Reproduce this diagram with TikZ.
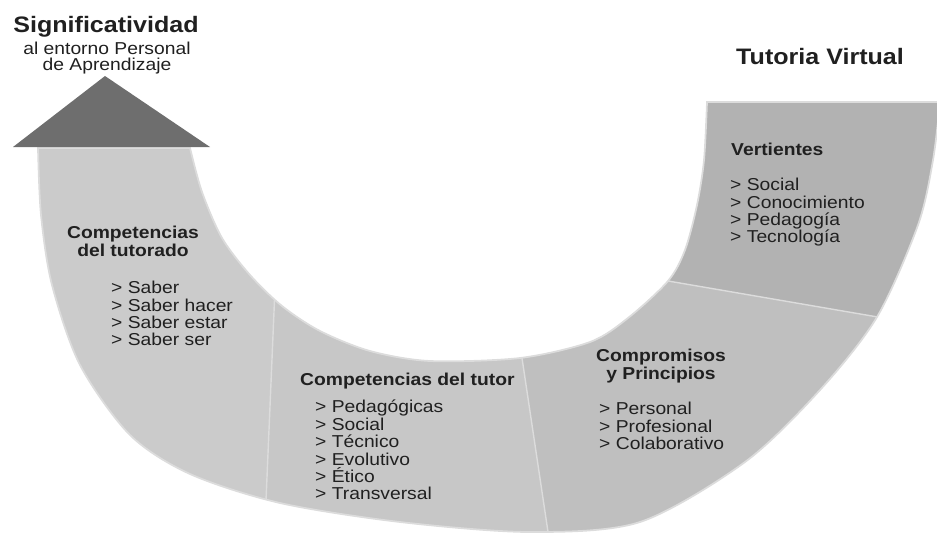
\documentclass[tikz,border=0pt]{standalone}
\usepackage{fontspec}
\setmainfont[FakeStretch=1.12]{Liberation Sans}
\definecolor{segA}{HTML}{CBCBCB}
\definecolor{segB}{HTML}{C7C7C7}
\definecolor{segC}{HTML}{BFBFBF}
\definecolor{segD}{HTML}{B2B2B2}
\definecolor{rim}{HTML}{DCDCDC}
\definecolor{tip}{HTML}{6E6E6E}
\definecolor{ink}{HTML}{202020}
\newcommand\bandpath{(38,148) -- plot[smooth] coordinates {(38,148) (41,215) (52,285) (80,365) (130,435) (190,474) (280,503) (400,522) (530,532) (640,522) (745,462) (820,390) (877,317) (918,225) (933,160) (940,102)} -- (707,102) -- plot[smooth] coordinates {(707,102) (704,160) (697,205) (685,250) (668,281) (628,318) (590,342) (520,358) (430,361) (370,351) (320,331) (282,306) (250,275) (222,238) (202,192) (190,148)} -- cycle}

\begin{document}
\begin{tikzpicture}[x=0.03cm, y=-0.03cm,
    head/.style={font=\bfseries\fontsize{14.7}{15.4}\selectfont, align=center},
    item/.style={font=\fontsize{14.7}{14.85}\selectfont, align=left, anchor=north west},
    divider/.style={draw=rim, line width=1.2pt}]
\useasboundingbox (0,0) rectangle (937,535);

\coordinate (d1a) at (274.5,300);
\coordinate (d1b) at (263.5,560);
\coordinate (d2a) at (517.8,330);
\coordinate (d2b) at (552.2,560);
\coordinate (d3a) at (600,269.3);
\coordinate (d3b) at (1000,338);

\begin{scope}
    \clip \bandpath;
    \fill [segA] (0,0) rectangle (1000,560);
    \fill [segB] (275,0) -- (d1a) -- (d1b) -- (1000,560) -- (1000,0) -- cycle;
    \fill [segC] (518,0) -- (d2a) -- (d2b) -- (1000,560) -- (1000,0) -- cycle;
    \fill [segD] (600,0) -- (d3a) -- (d3b) -- (1000,0) -- cycle;

    \path [divider] (d1a) edge (d1b);
    \path [divider] (d2a) edge (d2b);
    \path [divider] (d3a) edge (d3b);
\end{scope}
\draw [rim, line width=1.5pt] \bandpath;

\fill [tip] (105,76) -- (13,147) -- (210,147) -- cycle;

\begin{scope}[every node/.style={inner sep=0, text=ink}]
    \node [font=\bfseries\fontsize{19.1}{20}\selectfont, anchor=base] (t) at (106,33) {Significatividad};
    \node [font=\fontsize{14.7}{13.3}\selectfont, align=center, anchor=north] (s) at (107,42) {al entorno Personal\\de Aprendizaje};
    \node [font=\bfseries\fontsize{19.1}{20}\selectfont, anchor=base] (v) at (820,64) {Tutoria Virtual};

    \node [head, anchor=north] (h1) at (133,226) {Competencias\\del tutorado};
    \node [head, anchor=base west] (h2) at (300,385) {Competencias del tutor};
    \node [head, anchor=north] (h3) at (661,349) {Compromisos\\y Principios};
    \node [head, anchor=base west] (h4) at (731,155) {Vertientes};

    \node [item] (l1) at (111,281) {> Saber\\> Saber hacer\\> Saber estar\\> Saber ser};
    \node [item] (l2) at (315,400) {> Pedagógicas\\> Social\\> Técnico\\> Evolutivo\\> Ético\\> Transversal};
    \node [item] (l3) at (599,402) {> Personal\\> Profesional\\> Colaborativo};
    \node [item] (l4) at (730,178) {> Social\\> Conocimiento\\> Pedagogía\\> Tecnología};
\end{scope}

\end{tikzpicture}
\end{document}
